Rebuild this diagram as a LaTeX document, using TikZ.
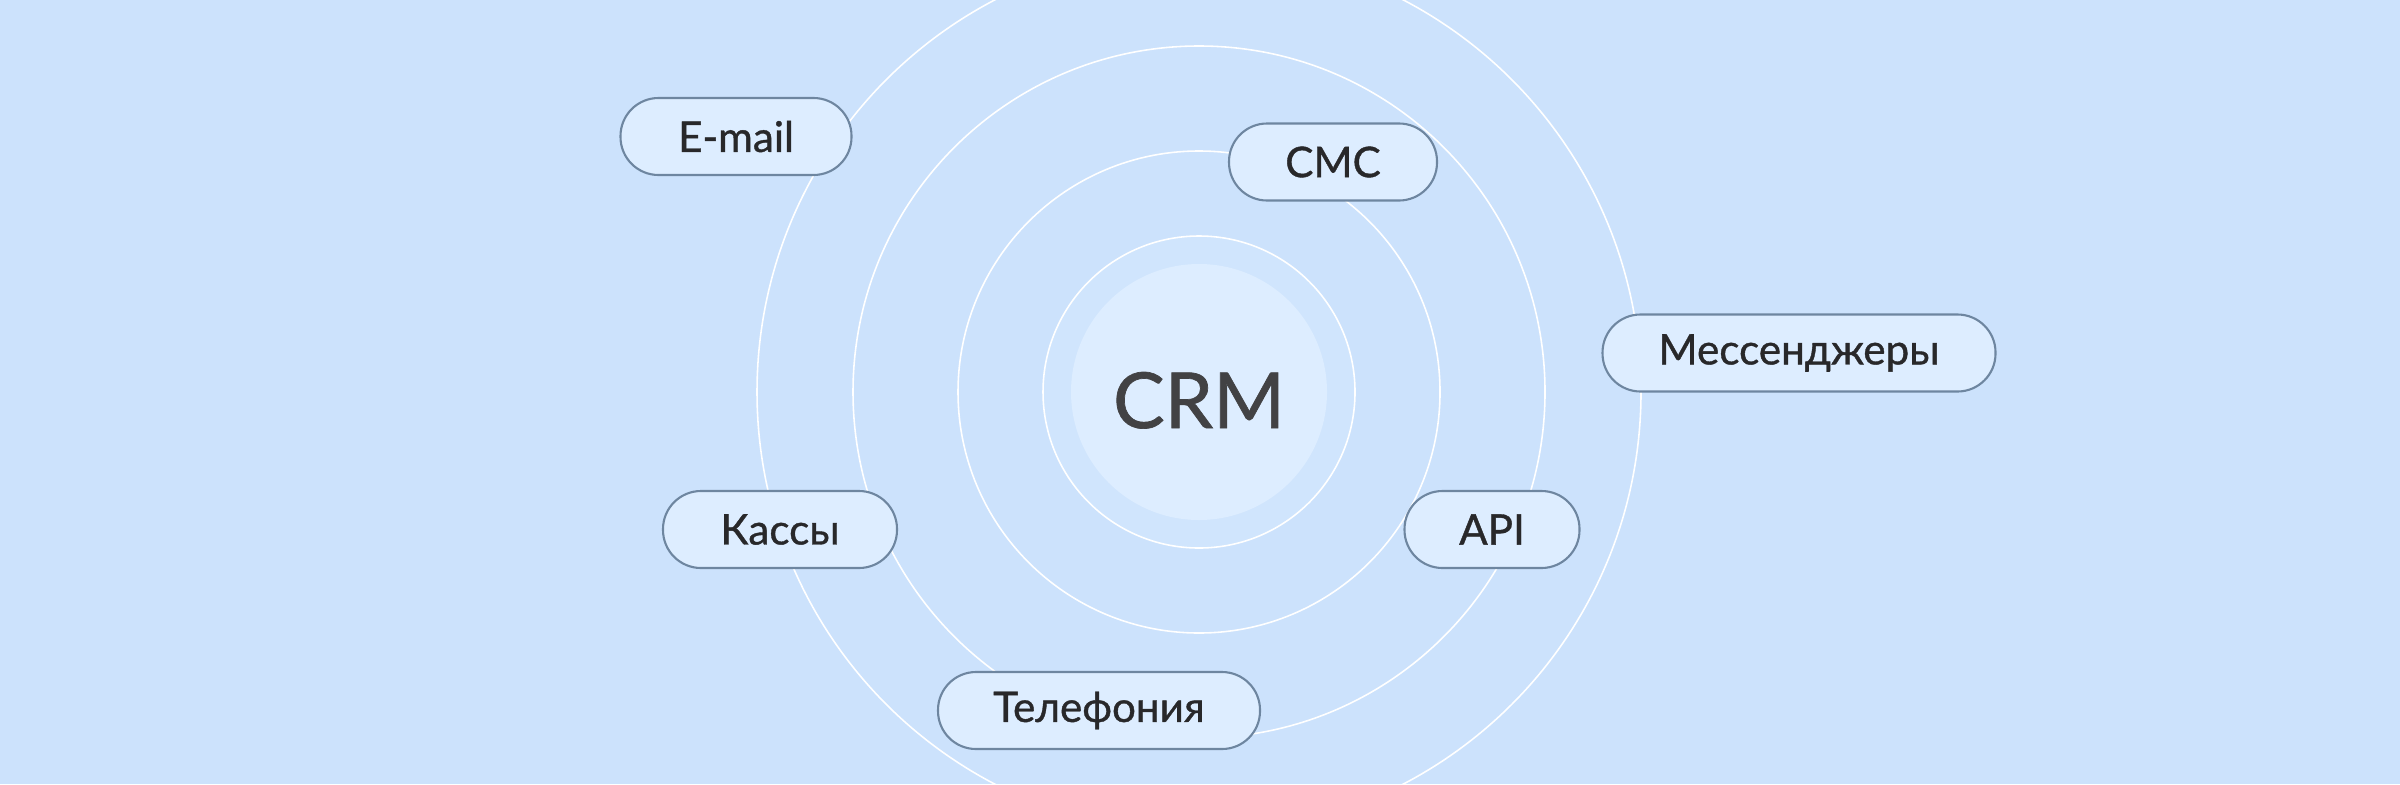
\documentclass[tikz,border=0pt]{standalone}
\usepackage{fontspec}
\setmainfont{Lato}
\newfontfamily\medfont[FakeBold=0.9]{Lato}
\usepackage{tikz}
\usetikzlibrary{positioning}
\definecolor{fond}{RGB}{204,226,252}
\definecolor{halo}{RGB}{208,229,253}
\definecolor{pale}{RGB}{221,237,255}
\definecolor{bord}{RGB}{110,134,160}
\definecolor{texte}{RGB}{40,40,42}
\definecolor{gris}{RGB}{66,66,68}
\tikzset{
  pill/.style={
    rectangle,draw=bord,fill=pale,line width=0.6pt,rounded corners=0.38cm,minimum height=0.77cm,inner sep=0pt,text=texte,font=\medfont\fontsize{12}{14}\selectfont
  },
  ring/.style={
    draw=white,line width=0.45pt
  },
  hub/.style={
    circle,fill=pale,minimum size=2.56cm,inner sep=0pt,text height=0.72cm,text depth=0pt,text=gris,font=\medfont\fontsize{22}{26}\selectfont
  },
}

\begin{document}
\begin{tikzpicture}
  \useasboundingbox (0,0) rectangle (24,7.84);
  \fill[fond] (0,0) rectangle (24,7.84);
  \coordinate (c) at (11.99,3.92);
  % rings
  \fill[halo] (c) circle (1.56);
  \foreach \r in {1.56,2.41,3.46,4.42}
    \draw[ring] (c) circle (\r);
  \node[hub] (crm) at (c) {CRM};
  % channels
  \node[pill,minimum width=2.31cm] (email) at (7.36,6.475) {E-mail};
  \node[pill,minimum width=2.08cm] (sms) at (13.33,6.22) {СМС};
  \node[pill,minimum width=3.93cm] (mess) at (17.99,4.31) {Мессенджеры};
  \node[pill,minimum width=2.34cm] (kassy) at (7.80,2.545) {Кассы};
  \node[pill,minimum width=1.75cm] (api) at (14.92,2.545) {API};
  \node[pill,minimum width=3.22cm] (tel) at (10.99,0.735) {Телефония};
\end{tikzpicture}
\end{document}
